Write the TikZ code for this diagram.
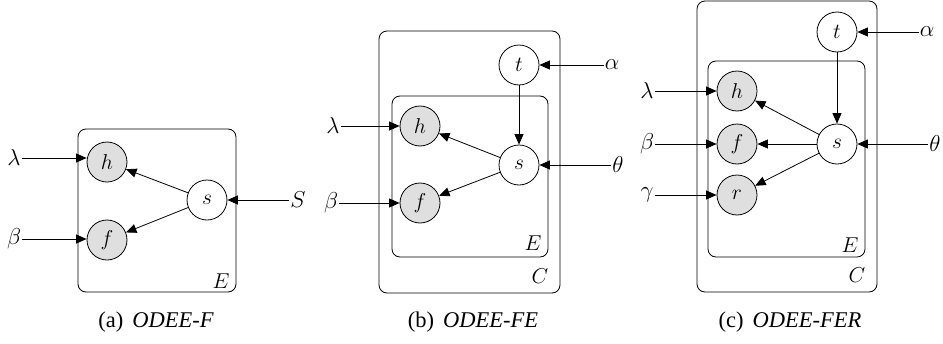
\RequirePackage{fix-cm}
\documentclass[tikz,border=0pt]{standalone}
\usepackage{fontspec}
\setmainfont{Liberation Serif}
\newfontfamily\capserif{Liberation Serif}
\usetikzlibrary{arrows.meta}
\newcommand{\mfont}{\fontsize{21.5}{25}\selectfont}
\newcommand{\pfont}{\fontsize{23}{27}\selectfont}
\tikzset{
  latent/.style={circle, draw, minimum size=40pt, inner sep=0pt, line width=0.8pt, font=\mfont},
  obs/.style={latent, fill=gray!25},
  plate/.style={draw, rounded corners=8pt, line width=0.8pt},
  arr/.style={-{Triangle[length=10.5pt,width=9pt]}, line width=0.8pt},
  param/.style={inner sep=1pt, font=\pfont},
  platelabel/.style={inner sep=0pt, font=\mfont},
  caption/.style={inner sep=0pt, font=\capserif\fontsize{22.5}{26}\selectfont}
}
\begin{document}
\begin{tikzpicture}[x=1pt,y=-1pt]
\useasboundingbox (0,0) rectangle (943,343);
% ---------- (a) ----------
\draw[plate] (78,129) rectangle (236,292);
\node[obs] (ah) at (107,162) {$h$};
\node[obs] (af) at (107,240) {$f$};
\node[latent] (as) at (207,200) {$s$};
\node[param] (alam) at (14,158) {$\lambda$};
\node[param] (abeta) at (14,239) {$\beta$};
\node[param] (aS) at (298,200) {$S$};
\node[platelabel] (aE) at (221,281) {$E$};
\draw[arr] (alam) -- (alam -| ah.west);
\draw[arr] (abeta) -- (abeta -| af.west);
\draw[arr] (aS) -- (as);
\draw[arr] (as) -- (ah);
\draw[arr] (as) -- (af);
\node[caption] (acap) at (156,322) {(a)\hspace{9pt}\textit{ODEE-F}};
% ---------- (b) ----------
\draw[plate] (379,31) rectangle (560,293);
\draw[plate] (392,96) rectangle (548,257);
\node[latent] (bt) at (519,65) {$t$};
\node[obs] (bh) at (420,126) {$h$};
\node[obs] (bf) at (420,203) {$f$};
\node[latent] (bs) at (519,165) {$s$};
\node[param] (balpha) at (612,65) {$\alpha$};
\node[param] (btheta) at (618,165) {$\theta$};
\node[param] (blam) at (333,126) {$\lambda$};
\node[param] (bbeta) at (331,203) {$\beta$};
\node[platelabel] (bE) at (533,243) {$E$};
\node[platelabel] (bC) at (540,276) {$C$};
\draw[arr] (balpha) -- (bt);
\draw[arr] (btheta) -- (bs);
\draw[arr] (blam) -- (bh);
\draw[arr] (bbeta) -- (bf);
\draw[arr] (bt) -- (bs);
\draw[arr] (bs) -- (bh);
\draw[arr] (bs) -- (bf);
\node[caption] (bcap) at (473,322) {(b)\hspace{9pt}\textit{ODEE-FE}};
% ---------- (c) ----------
\draw[plate] (697,1) rectangle (877,292);
\draw[plate] (708,61) rectangle (865,257);
\node[latent] (ct) at (837,32) {$t$};
\node[obs] (ch) at (737,91) {$h$};
\node[obs] (cf) at (737,144) {$f$};
\node[obs] (cr) at (737,195) {$r$};
\node[latent] (cs) at (837,144) {$s$};
\node[param] (calpha) at (927,32) {$\alpha$};
\node[param] (ctheta) at (935,144) {$\theta$};
\node[param] (clam) at (647,91) {$\lambda$};
\node[param] (cbeta) at (647,144) {$\beta$};
\node[param] (cgamma) at (647,195) {$\gamma$};
\node[platelabel] (cE) at (850,245) {$E$};
\node[platelabel] (cC) at (857,275) {$C$};
\draw[arr] (calpha) -- (ct);
\draw[arr] (ctheta) -- (cs);
\draw[arr] (clam) -- (ch);
\draw[arr] (cbeta) -- (cf);
\draw[arr] (cgamma) -- (cr);
\draw[arr] (ct) -- (cs);
\draw[arr] (cs) -- (ch);
\draw[arr] (cs) -- (cf);
\draw[arr] (cs) -- (cr);
\node[caption] (ccap) at (790,322) {(c)\hspace{9pt}\textit{ODEE-FER}};
\end{tikzpicture}
\end{document}
